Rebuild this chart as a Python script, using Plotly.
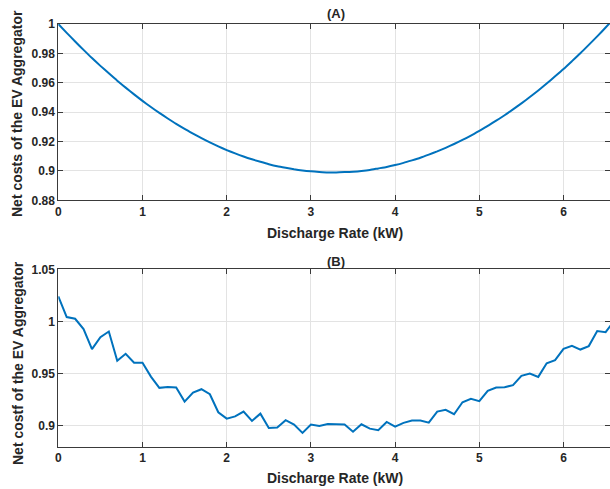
import plotly.graph_objects as go

# Discharge rate (kW), 0.0 .. 6.6 in 0.1 steps
discharge_rate = [round(0.1 * i, 1) for i in range(67)]

# (A) Net costs of the EV aggregator (smooth)
net_costs_a = [
    1.0000, 0.9940, 0.9881, 0.9824, 0.9768, 0.9715, 0.9664, 0.9614, 0.9567, 0.9521,
    0.9477, 0.9435, 0.9395, 0.9357, 0.9320, 0.9286, 0.9254, 0.9223, 0.9194, 0.9167,
    0.9142, 0.9119, 0.9098, 0.9079, 0.9062, 0.9046, 0.9032, 0.9021, 0.9011, 0.9003,
    0.8997, 0.8993, 0.8990, 0.8990, 0.8992, 0.8995, 0.9000, 0.9007, 0.9017, 0.9027,
    0.9040, 0.9055, 0.9072, 0.9090, 0.9111, 0.9133, 0.9157, 0.9183, 0.9211, 0.9241,
    0.9273, 0.9306, 0.9342, 0.9379, 0.9419, 0.9460, 0.9503, 0.9548, 0.9595, 0.9644,
    0.9694, 0.9747, 0.9801, 0.9858, 0.9916, 0.9976, 1.0038,
]

# (B) Net costs of the EV aggregator (noisy)
net_costs_b = [
    1.0240, 1.0042, 1.0026, 0.9927, 0.9735, 0.9850, 0.9904, 0.9623, 0.9690, 0.9604,
    0.9604, 0.9472, 0.9364, 0.9373, 0.9367, 0.9232, 0.9319, 0.9351, 0.9303, 0.9130,
    0.9069, 0.9090, 0.9136, 0.9047, 0.9117, 0.8980, 0.8984, 0.9054, 0.9012, 0.8932,
    0.9012, 0.8999, 0.9018, 0.9012, 0.9012, 0.8944, 0.9015, 0.8973, 0.8958, 0.9037,
    0.8992, 0.9028, 0.9050, 0.9050, 0.9030, 0.9136, 0.9153, 0.9111, 0.9226, 0.9258,
    0.9236, 0.9335, 0.9367, 0.9370, 0.9390, 0.9479, 0.9501, 0.9469, 0.9600, 0.9630,
    0.9738, 0.9767, 0.9731, 0.9764, 0.9908, 0.9898, 1.0004,
]

ticks_x = [0, 1, 2, 3, 4, 5, 6]
ticks_ya = [0.88, 0.9, 0.92, 0.94, 0.96, 0.98, 1]
ticks_yb = [0.9, 0.95, 1, 1.05]
labels_ya = ["0.88", "0.9", "0.92", "0.94", "0.96", "0.98", "1"]
labels_yb = ["0.9", "0.95", "1", "1.05"]

W, H = 610, 489
LINE = "#0072BD"
AX = "#3a3a3a"
GRID = "#e3e3e3"
FONT = "Liberation Sans, Arial, sans-serif"
TXT = "#262626"

fig = go.Figure()
fig.add_trace(go.Scatter(x=discharge_rate, y=net_costs_a, mode="lines",
                         line=dict(color=LINE, width=2, shape="spline", smoothing=0.6),
                         xaxis="x", yaxis="y", showlegend=False))
fig.add_trace(go.Scatter(x=discharge_rate, y=net_costs_b, mode="lines",
                         line=dict(color=LINE, width=2), xaxis="x2", yaxis="y2",
                         showlegend=False))

x0 = 58.3 / W
top_a = 1 - 24 / H
bot_a = 1 - 200.3 / H
top_b = 1 - 269.3 / H
bot_b = 1 - 446.7 / H

common_x = dict(range=[0, 6.552], tickvals=ticks_x, ticktext=[str(t) for t in ticks_x],
                showgrid=True, gridcolor=GRID, gridwidth=1, zeroline=False,
                showline=True, linecolor=AX, linewidth=1, mirror="ticks",
                ticks="inside", ticklen=5, tickcolor=AX, automargin=False,
                tickfont=dict(family=FONT, size=12, color=TXT, weight="bold"),
                domain=[x0, 1])
common_y = dict(showgrid=True, gridcolor=GRID, gridwidth=1, zeroline=False,
                showline=True, linecolor=AX, linewidth=1, mirror="ticks",
                ticks="inside", ticklen=5, tickcolor=AX, automargin=False,
                tickfont=dict(family=FONT, size=12, color=TXT, weight="bold"))

fig.update_layout(
    width=W, height=H,
    margin=dict(l=0, r=0, t=0, b=0),
    paper_bgcolor="white", plot_bgcolor="white",
    xaxis=dict(common_x, anchor="y"),
    yaxis=dict(common_y, range=[0.88, 1.0], tickvals=ticks_ya, ticktext=labels_ya,
               domain=[bot_a, top_a], anchor="x"),
    xaxis2=dict(common_x, anchor="y2"),
    yaxis2=dict(common_y, range=[0.88, 1.05], tickvals=ticks_yb, ticktext=labels_yb,
                domain=[bot_b, top_b], anchor="x2"),
)

def px_ann(text, xpx, ypx, size, angle=0):
    fig.add_annotation(text=f"<b>{text}</b>", x=xpx / W, y=1 - ypx / H,
                       xref="paper", yref="paper", showarrow=False,
                       xanchor="center", yanchor="middle", textangle=angle,
                       font=dict(family=FONT, size=size, color=TXT))

px_ann("(A)", 336, 14, 13)
px_ann("(B)", 336, 261, 13)
px_ann("Discharge Rate (kW)", 335, 233, 14)
px_ann("Discharge Rate (kW)", 335, 478, 14)
px_ann("Net costs of the EV Aggregator", 17, 114, 14, -90)
px_ann("Net costf of the EV Aggregator", 18, 363, 14, -90)

fig.write_html("out.html", config={"displayModeBar": False},
               post_script="document.body.style.margin='0';document.body.style.overflow='hidden';")
